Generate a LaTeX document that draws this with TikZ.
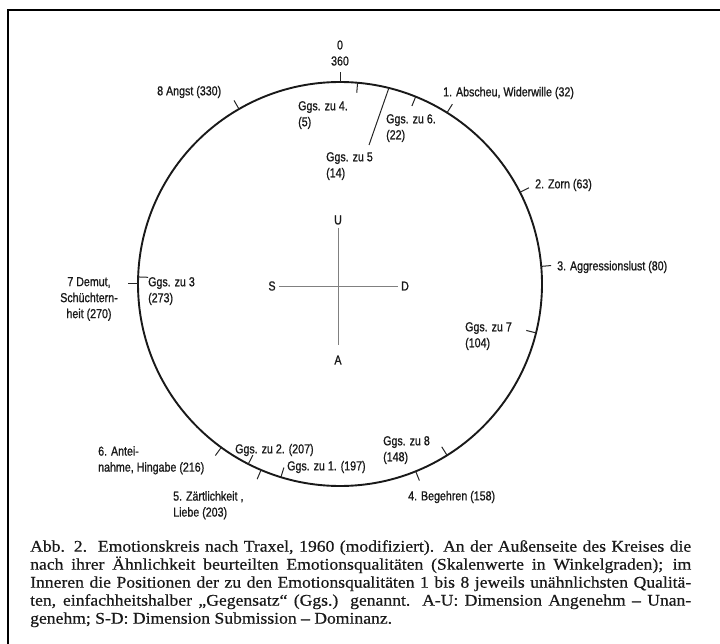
\documentclass[tikz,border=0pt]{standalone}
\usepackage{fontspec}
\setmainfont{Liberation Serif}
\newfontfamily\labfont[FakeStretch=0.82,FakeBold=1]{Liberation Sans}
\newfontfamily\capfont[FakeStretch=1.08,FakeBold=0.5]{Liberation Serif}
\usetikzlibrary{calc}
\begin{document}
\begin{tikzpicture}[x=1pt,y=-1pt,
  lab/.style={font={\labfont\fontsize{13}{16}\selectfont}, inner sep=0pt, align=left, text=black!90},
  ring/.style={line width=1.9pt, black!90},
  tickline/.style={line width=1pt, black!85},
  axis/.style={line width=0.8pt, black!50},
  caption/.style={font={\capfont\fontsize{16.3}{18}\selectfont}, inner sep=0pt, text width=661pt, align=justify, text=black!90}]
\useasboundingbox (0,0) rectangle (720,644);
\draw[line width=1.5pt] (8,644) -- (8,10) -- (720,10);
\coordinate (c) at (340,284);
\draw[ring] (c) circle[radius=202];
% outer ticks (emotion qualities)
\foreach \a/\n in {0/t0,32/t1,63/t2,85/t3,158/t4,203/t5,216/t6,270/t7,330/t8}{
  \coordinate (on\n) at ($(c)+(\a-90:202)$);
  \coordinate (out\n) at ($(c)+(\a-90:212)$);
  \draw[tickline] (on\n) -- (out\n);
}
% inner ticks (Gegensatz)
\foreach \a/\n in {5/g4,22/g6,104/g7,148/g8,197/g1,207/g2,272/g3}{
  \coordinate (on\n) at ($(c)+(\a-90:202)$);
  \coordinate (in\n) at ($(c)+(\a-90:192)$);
  \draw[tickline] (on\n) -- (in\n);
}
\coordinate (ong5) at ($(c)+(14-90:202)$);
% labels outside
\node[lab, align=center] (top) at (340,53) {0\\360};
\node[lab, anchor=west] (e8) at (157,92) {8 Angst (330)};
\node[lab, anchor=west] (e1) at (443,93) {1. Abscheu, Widerwille (32)};
\node[lab, anchor=west] (e2) at (535,185) {2. Zorn (63)};
\node[lab, anchor=west] (e3) at (557,267) {3. Aggressionslust (80)};
\node[lab, anchor=west] (e4) at (408,497) {4. Begehren (158)};
\node[lab, anchor=north west] (e5) at (173,491) {5. Zärtlichkeit ,\\Liebe (203)};
\node[lab, anchor=north west] (e6) at (98,446) {6. Antei-\\nahme, Hingabe (216)};
\node[lab, anchor=north, align=center] (e7) at (89,277) {7 Demut,\\Schüchtern-\\heit (270)};
% labels inside
\node[lab, anchor=north west] (g4) at (298,101) {Ggs. zu 4.\\(5)};
\node[lab, anchor=north west] (g6) at (386,114) {Ggs. zu 6.\\(22)};
\node[lab, anchor=north west] (g5) at (326,152) {Ggs. zu 5\\(14)};
\coordinate (g5end) at ($(g5.north east)+(-4,-7)$);
\draw[tickline] (ong5) -- (g5end);
\node[lab, anchor=north west] (g7) at (465,322) {Ggs. zu 7\\(104)};
\node[lab, anchor=north west] (g8) at (383,436) {Ggs. zu 8\\(148)};
\node[lab, anchor=west] (g1) at (287,467) {Ggs. zu 1. (197)};
\node[lab, anchor=west] (g2) at (235,450) {Ggs. zu 2. (207)};
\node[lab, anchor=north west] (g3) at (148,277) {Ggs. zu 3\\(273)};
% axes
\node[lab] (U) at (338,220) {U};
\node[lab] (A) at (338,360) {A};
\node[lab] (S) at (272,286) {S};
\node[lab] (D) at (405,286) {D};
\draw[axis, shorten <=3pt, shorten >=10pt] (U.south) -- (A.north);
\draw[axis, shorten <=3pt, shorten >=3pt] (S.east) -- (D.west);
% caption
\node[caption, anchor=north west] (cap) at (30,540) {Abb. 2.\ \ Emotionskreis nach Traxel, 1960 (modifiziert). An der Außenseite des Kreises die\linebreak
nach ihrer Ähnlichkeit beurteilten Emotionsqualitäten (Skalenwerte in Winkelgraden); im\linebreak
Inneren die Positionen der zu den Emotionsqualitäten 1 bis 8 jeweils unähnlichsten Qualitä-\linebreak
ten, einfachheitshalber „Gegensatz“ (Ggs.) genannt. A-U: Dimension Angenehm – Unan-\linebreak
genehm; S-D: Dimension Submission – Dominanz.};
\end{tikzpicture}
\end{document}
